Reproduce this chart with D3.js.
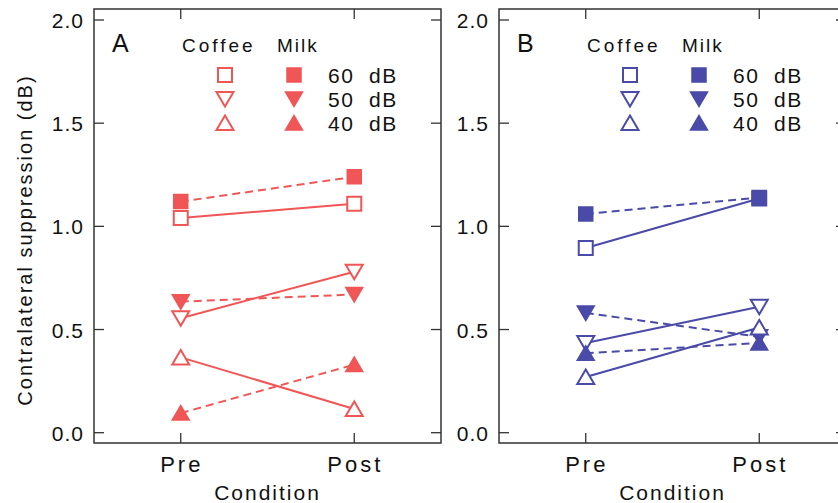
<!DOCTYPE html>
<html>
<head>
<meta charset="utf-8">
<script src="https://cdn.jsdelivr.net/npm/d3@7"></script>
<style>
  body { margin: 0; background: #fff; }
  text { font-family: "Liberation Sans", Arial, sans-serif; fill: #111; }
</style>
</head>
<body>
<div id="vis"></div>
<script>
// data
var conditions = ["Pre", "Post"];
var levels = ["60  dB", "50  dB", "40  dB"];
var shapes = ["square", "down", "up"];
var yTicks = [0, 0.5, 1.0, 1.5, 2.0];

// panel A (red)
var coffeeA = [[1.04, 1.11], [0.555, 0.78], [0.365, 0.115]];
var milkA = [[1.12, 1.24], [0.635, 0.67], [0.095, 0.33]];
// panel B (blue)
var coffeeB = [[0.895, 1.135], [0.435, 0.61], [0.27, 0.51]];
var milkB = [[1.06, 1.14], [0.58, 0.465], [0.385, 0.435]];

var width = 838, height = 503;
var svg = d3.select('#vis').append('svg')
  .attr('width', width).attr('height', height);

var plotTop = 9, plotBottom = 443, pw = 347;

var y = d3.scaleLinear().domain([0, 2.0]).range([432.7, 20]);

// marker path centred on 0,0
function marker(shape) {
  if (shape === 'square') return 'M-7,-7H7V7H-7Z';
  if (shape === 'down') return 'M-8.5,-7H8.5L0,7.5Z';
  return 'M-8.5,7H8.5L0,-7.5Z';
}

function panel(left, letter, coffee, milk, color, showYLabel) {
  var x = d3.scalePoint().domain(conditions).range([left, left + pw]).padding(0.5);
  var g = svg.append('g');

  // frame
  g.append('rect')
    .attr('x', left).attr('y', plotTop)
    .attr('width', pw).attr('height', plotBottom - plotTop)
    .attr('fill', 'none').attr('stroke', '#333').attr('stroke-width', 1.5);

  // inward ticks, all four sides
  yTicks.forEach(function (t) {
    g.append('line').attr('x1', left).attr('x2', left + 10)
      .attr('y1', y(t)).attr('y2', y(t)).attr('stroke', '#333').attr('stroke-width', 1.3);
    g.append('line').attr('x1', left + pw - 10).attr('x2', left + pw)
      .attr('y1', y(t)).attr('y2', y(t)).attr('stroke', '#333').attr('stroke-width', 1.3);
    g.append('text')
      .attr('x', left - 10).attr('y', y(t) + 8)
      .attr('text-anchor', 'end')
      .style('font-size', '21px').style('letter-spacing', '1px')
      .text(d3.format('.1f')(t));
  });
  conditions.forEach(function (c) {
    g.append('line').attr('x1', x(c)).attr('x2', x(c))
      .attr('y1', plotTop).attr('y2', plotTop + 10).attr('stroke', '#333').attr('stroke-width', 1.3);
    g.append('line').attr('x1', x(c)).attr('x2', x(c))
      .attr('y1', plotBottom - 10).attr('y2', plotBottom).attr('stroke', '#333').attr('stroke-width', 1.3);
    g.append('text')
      .attr('x', x(c) + 1).attr('y', 472)
      .attr('text-anchor', 'middle')
      .style('font-size', '22px').style('letter-spacing', '3px')
      .text(c);
  });

  g.append('text')
    .attr('x', (x('Pre') + x('Post')) / 2).attr('y', 500)
    .attr('text-anchor', 'middle')
    .style('font-size', '21px').style('letter-spacing', '2px')
    .text('Condition');

  if (showYLabel) {
    svg.append('text')
      .attr('transform', 'translate(32,240) rotate(-90)')
      .attr('text-anchor', 'middle')
      .style('font-size', '20px').style('letter-spacing', '2px')
      .text('Contralateral  suppression  (dB)');
  }

  // lines
  var line = d3.line()
    .x(function (d, i) { return x(conditions[i]); })
    .y(function (d) { return y(d); });

  coffee.forEach(function (s) {
    g.append('path').attr('d', line(s)).attr('fill', 'none')
      .attr('stroke', color).attr('stroke-width', 2);
  });
  milk.forEach(function (s) {
    g.append('path').attr('d', line(s)).attr('fill', 'none')
      .attr('stroke', color).attr('stroke-width', 2)
      .attr('stroke-dasharray', '8,5');
  });

  // markers, drawn in the stacking order seen in the figure
  function drawMarker(v, i, k, filled) {
    g.append('path').attr('d', marker(shapes[k]))
      .attr('transform', 'translate(' + x(conditions[i]) + ',' + y(v) + ')')
      .attr('fill', filled ? color : 'white')
      .attr('stroke', color).attr('stroke-width', filled ? 1.5 : 2);
  }
  var order = [[0, false], [0, true], [1, true], [1, false], [2, false], [2, true]];
  order.forEach(function (o) {
    var s = o[1] ? milk[o[0]] : coffee[o[0]];
    s.forEach(function (v, i) { drawMarker(v, i, o[0], o[1]); });
  });

  // panel letter and legend
  g.append('text').attr('x', left + 18).attr('y', 52)
    .style('font-size', '25px').text(letter);
  g.append('text').attr('x', left + 88).attr('y', 52)
    .style('font-size', '19px').style('letter-spacing', '3px').text('Coffee');
  g.append('text').attr('x', left + 183).attr('y', 52)
    .style('font-size', '19px').style('letter-spacing', '2px').text('Milk');
  levels.forEach(function (lv, k) {
    var ly = 75 + k * 24;
    g.append('path').attr('d', marker(shapes[k]))
      .attr('transform', 'translate(' + (left + 131) + ',' + ly + ')')
      .attr('fill', 'white').attr('stroke', color).attr('stroke-width', 2);
    g.append('path').attr('d', marker(shapes[k]))
      .attr('transform', 'translate(' + (left + 200) + ',' + ly + ')')
      .attr('fill', color).attr('stroke', color).attr('stroke-width', 1.5);
    g.append('text').attr('x', left + 234).attr('y', ly + 8)
      .style('font-size', '21px').style('letter-spacing', '1.5px')
      .style('white-space', 'pre')
      .text(lv);
  });
}

panel(94, 'A', coffeeA, milkA, '#f05656', true);
panel(499, 'B', coffeeB, milkB, '#4a4aa8', false);
</script>
</body>
</html>
